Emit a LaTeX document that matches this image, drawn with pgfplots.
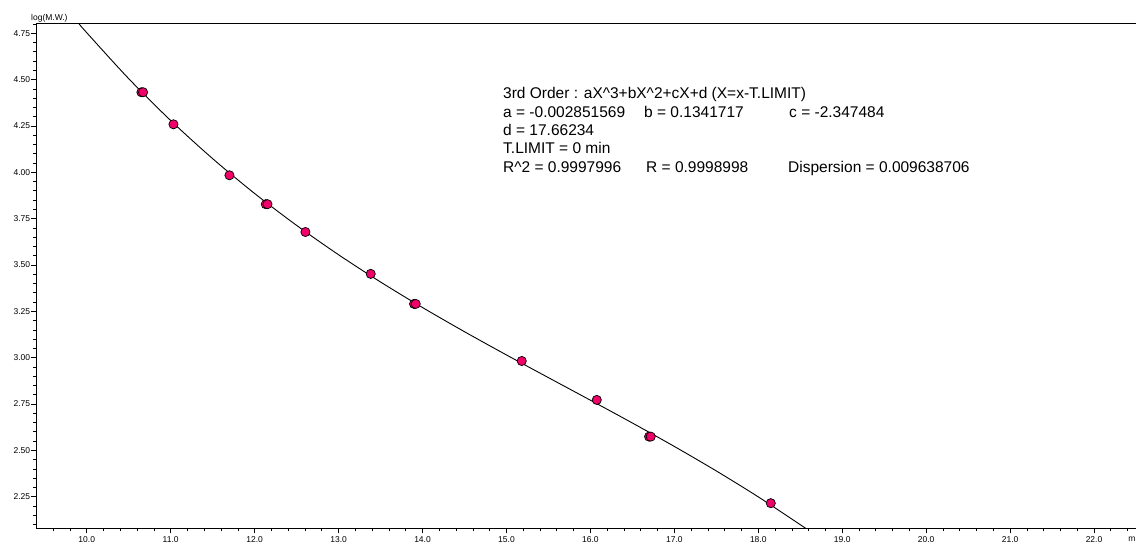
\documentclass[border=0pt]{standalone}
\usepackage{fontspec}
\setmainfont{Liberation Sans}
\usepackage{pgfplots}
\pgfplotsset{compat=1.18}
\definecolor{ptpink}{RGB}{240,0,105}
\begin{document}
\begin{tikzpicture}
\begin{axis}[
  name=ax,
  scale only axis,
  width=1099.6pt, height=504.7pt,
  xmin=9.4, xmax=22.5, ymin=2.081, ymax=4.804,
  axis x line*=bottom, axis y line*=left,
  axis line style={black, line width=0.8pt, -},
  xtick={10,11,12,13,14,15,16,17,18,19,20,21,22},
  minor xtick={9.6,9.8,...,22.4},
  ytick={2.25,2.50,2.75,3.00,3.25,3.50,3.75,4.00,4.25,4.50,4.75},
  minor ytick={2.1,2.15,...,4.8},
  tick align=outside,
  major tick length=5.5pt, minor tick length=3pt,
  tick style={black, line width=0.7pt},
  ticklabel style={font=\fontsize{8.5}{10}\selectfont, inner sep=0pt},
  /pgf/number format/assume math mode=true,
  xticklabel style={anchor=north, yshift=-2.5pt, /pgf/number format/.cd, fixed, fixed zerofill, precision=1},
  yticklabel style={anchor=east, xshift=-0.5pt, /pgf/number format/.cd, fixed, fixed zerofill, precision=2},
]
\draw[black, line width=0.8pt] (rel axis cs:0,1) -- (rel axis cs:1,1);
% fitted 3rd order curve (tabulated values)
\addplot[black, line width=0.9pt, smooth, no marks] coordinates {
(9.8,4.85898) (9.9,4.80555) (10.0,4.75310) (10.5,4.50514) (11.0,4.27936)
(11.5,4.07360) (12.0,3.88574) (12.5,3.71365) (13.0,3.55517) (13.5,3.40817)
(14.0,3.27051) (14.5,3.14006) (15.0,3.01466) (15.5,2.89220) (16.0,2.77053)
(16.5,2.64748) (17.0,2.52097) (17.5,2.38882) (18.0,2.24891) (18.5,2.09909)
(18.6,2.06775)
};
% calibration points
\addplot[only marks, mark=*, mark size=4.6pt, mark options={fill=ptpink, draw=black, line width=0.7pt}] coordinates {
(10.651,4.432) (10.671,4.432)
(11.033,4.259)
(11.700,3.984)
(12.133,3.828) (12.153,3.828)
(12.605,3.678)
(13.383,3.452)
(13.899,3.290) (13.919,3.290)
(15.182,2.982)
(16.076,2.772)
(16.699,2.574) (16.719,2.574)
(18.149,2.215)
};
\end{axis}
\node[anchor=base west, inner sep=0pt, font=\fontsize{8.5}{10}\selectfont] at ([shift={(-5.4pt,2.6pt)}]ax.north west) {log(M.W.)};
\node[anchor=base west, inner sep=0pt, font=\fontsize{8.5}{10}\selectfont] at ([shift={(-7.8pt,-13.5pt)}]ax.south east) {m};
\begin{scope}[every node/.style={anchor=base west, inner sep=0pt, font=\fontsize{15.5}{18}\selectfont}]
\node at ([shift={(466.6pt,-75.7pt)}]ax.north west) {3rd Order : aX\textasciicircum3+bX\textasciicircum2+cX+d (X=x-T.LIMIT)};
\node at ([shift={(466.6pt,-94.4pt)}]ax.north west) {a = -0.002851569};
\node at ([shift={(607.6pt,-94.4pt)}]ax.north west) {b = 0.1341717};
\node at ([shift={(752.6pt,-94.4pt)}]ax.north west) {c = -2.347484};
\node at ([shift={(466.6pt,-112.4pt)}]ax.north west) {d = 17.66234};
\node at ([shift={(466.6pt,-130.0pt)}]ax.north west) {T.LIMIT = 0 min};
\node at ([shift={(466.6pt,-149.0pt)}]ax.north west) {R\textasciicircum2 = 0.9997996};
\node at ([shift={(609.6pt,-149.0pt)}]ax.north west) {R = 0.9998998};
\node at ([shift={(751.6pt,-149.0pt)}]ax.north west) {Dispersion = 0.009638706};
\end{scope}
\pgfresetboundingbox
\path[use as bounding box] ([shift={(-36.4pt,-17pt)}]ax.south west) rectangle ([shift={(0pt,23.3pt)}]ax.north east);
\end{tikzpicture}
\end{document}
